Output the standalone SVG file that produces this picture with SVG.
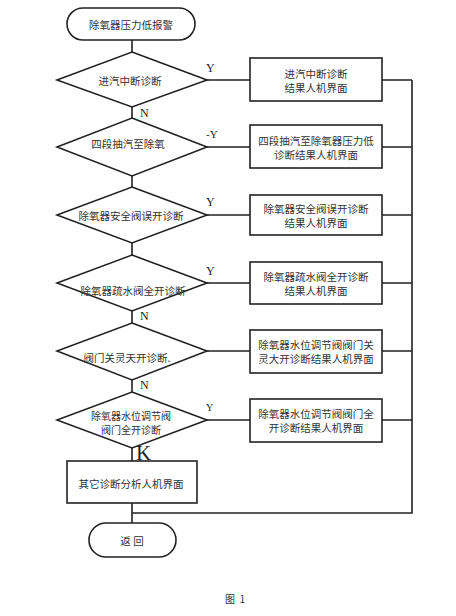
<svg xmlns="http://www.w3.org/2000/svg" width="456" height="616" viewBox="0 0 456 616">
<style>
.s{fill:#fff;stroke:#222;stroke-width:1.6}
.l{fill:none;stroke:#222;stroke-width:1.6}
.t{font-family:"Noto Sans CJK SC","Noto Sans",sans-serif;font-size:10.5px;fill:#333;text-anchor:middle;dominant-baseline:central}
.lb{font-family:"Liberation Serif",serif;font-size:12px;fill:#222}
</style>
<rect width="456" height="616" fill="#fff"/>
<g id="connectors">
<path class="l" d="M132 40V52M132 107V118M132 176V187M132 243V255M132 311V323M132 380V392M132 448V461M132 503V523M132 513H412V80"/>
<path class="l" d="M207 80H250M382 80H412M207 147H250M382 147H412M207 215H250M382 215H412M207 283H250M382 283H412M207 351H250M382 351H412M207 420H250M382 420H412"/>
</g>
<g id="start"><rect class="s" x="67" y="8" width="128" height="32" rx="16"/><text class="t" x="131" y="24">除氧器压力低报警</text></g>
<g id="d1"><polygon class="s" points="132,52 207,80 132,107 57,80"/><text class="t" x="130" y="80">进汽中断诊断</text></g>
<g id="b1"><rect class="s" x="250" y="58" width="132" height="43"/><text class="t" x="316" y="73">进汽中断诊断</text><text class="t" x="316" y="87">结果人机界面</text></g>
<g id="d2"><polygon class="s" points="132,118 207,147 132,176 57,147"/><text class="t" x="128" y="143">四段抽汽至除氧</text></g>
<g id="b2"><rect class="s" x="250" y="125" width="132" height="43"/><text class="t" x="316" y="140">四段抽汽至除氧器压力低</text><text class="t" x="316" y="154">诊断结果人机界面</text></g>
<g id="d3"><polygon class="s" points="132,187 207,215 132,243 57,215"/><text class="t" x="131" y="215">除氧器安全阀误开诊断</text></g>
<g id="b3"><rect class="s" x="250" y="195" width="132" height="40"/><text class="t" x="316" y="208">除氧器安全阀误开诊断</text><text class="t" x="316" y="222">结果人机界面</text></g>
<g id="d4"><polygon class="s" points="132,255 207,283 132,311 57,283"/><text class="t" x="133" y="290">除氧器疏水阀全开诊断</text></g>
<g id="b4"><rect class="s" x="250" y="262" width="132" height="42"/><text class="t" x="316" y="276">除氧器疏水阀全开诊断</text><text class="t" x="316" y="290">结果人机界面</text></g>
<g id="d5"><polygon class="s" points="132,323 207,351 132,380 57,351"/><text class="t" x="127" y="357">阀门关灵天开诊断.</text></g>
<g id="b5"><rect class="s" x="250" y="330" width="132" height="43"/><text class="t" x="316" y="344">除氧器水位调节阀阀门关</text><text class="t" x="316" y="358">灵大开诊断结果人机界面</text></g>
<g id="d6"><polygon class="s" points="132,392 207,420 132,448 57,420"/><text class="t" x="131" y="415" style="font-size:10px">除氧器水位调节阀</text><text class="t" x="131" y="429" style="font-size:10px">阀门全开诊断</text></g>
<g id="b6"><rect class="s" x="250" y="399" width="132" height="43"/><text class="t" x="316" y="413">除氧器水位调节阀阀门全</text><text class="t" x="316" y="427">开诊断结果人机界面</text></g>
<g id="b7"><rect class="s" x="67" y="461" width="130" height="42"/><text class="t" x="131" y="483">其它诊断分析人机界面</text></g>
<g id="end"><rect class="s" x="89" y="523" width="87" height="34" rx="17"/><text class="t" x="132" y="540">返 回</text></g>
<g id="labels">
<text class="lb" x="206" y="72">Y</text>
<text class="lb" x="140" y="117">N</text>
<text class="lb" x="206" y="138" style="font-size:11px">-Y</text>
<text class="lb" x="206" y="206">Y</text>
<text class="lb" x="206" y="275">Y</text>
<text class="lb" x="140" y="320">N</text>
<text class="lb" x="140" y="389">N</text>
<text class="lb" x="206" y="411" style="font-size:10px">Y</text>
<text class="lb" x="136" y="460" style="font-size:21px">K</text>
<text class="t" x="235" y="598" style="font-size:10px">图&#160;&#160;1</text>
</g>
</svg>
